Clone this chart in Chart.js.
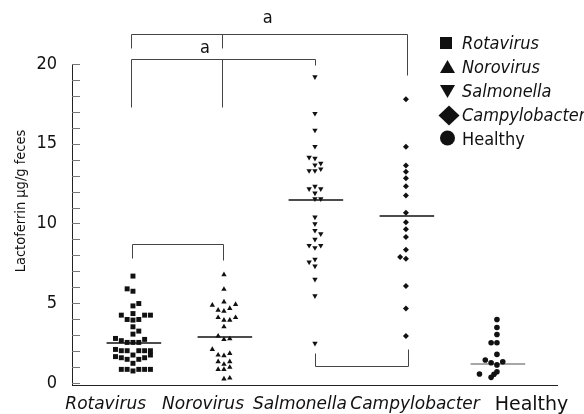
<!DOCTYPE html>
<html>
<head>
<meta charset="utf-8">
<script src="https://cdn.jsdelivr.net/npm/chart.js@4.4.0/dist/chart.umd.min.js"></script>
<style>
  body { margin: 0; background: #fff; }
  #wrap { width: 584px; height: 414px; }
</style>
</head>
<body>
<div id="wrap"><canvas id="chart"></canvas></div>
<script>
var categories = ["Rotavirus", "Norovirus", "Salmonella", "Campylobacter", "Healthy"];
var italicNames = [true, true, true, true, false];
// where the category names sit along the x axis (group units)
var labelPositions = [-0.30, 0.77, 1.835, 3.10, 4.38];
var yTickValues = [0, 1, 2, 3, 4, 5, 6, 7, 8, 9, 10, 11, 12, 13, 14, 15, 16, 17, 18, 19, 20];
var yTitle = "Lactoferrin μg/g feces";

// lactoferrin per patient; slots = sideways spread of the dot plot
var rotavirusValues = [6.7, 5.9, 5.75, 4.83, 4.98, 4.25, 4.35, 4.25, 4.25, 3.98, 3.94, 3.98, 3.52,
  3.06, 3.25, 2.79, 2.65, 2.54, 2.54, 2.54, 2.73, 2.1, 2.02, 2.02, 2.02, 2.02, 2.02, 1.75, 1.75,
  1.65, 1.58, 1.48, 1.48, 1.58, 1.23, 0.85, 0.85, 0.75, 0.85, 0.85, 0.85];
var rotavirusSlots = [0, -1, 0, 0, 1, -2, 0, 2, 3, -1, 0, 1, 0,
  0, 1, -3, -2, -1, 0, 1, 2, -3, -2, -1, 1, 2, 3, 3, 0,
  -3, -2, -1, 1, 2, 0, -2, -1, 0, 1, 2, 3];

var norovirusValues = [6.79, 5.87, 5.08, 4.88, 4.92, 4.56, 4.5, 4.67, 4.1, 3.94, 3.94, 4.1, 3.52,
  2.94, 2.73, 2.77, 2.1, 1.75, 1.71, 1.85, 1.33, 1.17, 1.33, 0.85, 0.85, 0.98, 0.25, 0.31];
var norovirusSlots = [0, 0, 0, -2, 2, -1, 0, 1, -1, 0, 1, 2, 0,
  -1, 0, 1, -2, -1, 0, 1, -1, 0, 1, -1, 0, 1, 0, 1];

var salmonellaValues = [19.19, 16.9, 15.85, 14.83, 14.15, 14.08, 13.67, 13.77, 13.31, 13.31, 13.42,
  12.17, 12.33, 12.17, 11.9, 11.54, 11.54, 10.4, 9.98, 9.56, 9.35, 9.0, 8.62, 8.48, 8.62,
  7.58, 7.75, 7.33, 6.5, 5.46, 2.48];
var salmonellaSlots = [0, 0, 0, 0, -1, 0, 0, 1, -1, 0, 1,
  -1, 0, 1, 0, 0, 1, 0, 0, 0, 1, 0, -1, 0, 1,
  -1, 0, 0, 0, 0, 0];

var campylobacterValues = [17.79, 14.81, 13.63, 13.25, 12.83, 12.33, 11.75, 10.67, 10.08, 9.63,
  9.15, 8.35, 7.9, 7.79, 6.08, 4.67, 2.94];
var campylobacterSlots = [0, 0, 0, 0, 0, 0, 0, 0, 0, 0, 0, 0, -1, 0, 0, 0, 0];

var healthyValues = [3.98, 3.48, 3.04, 2.52, 2.52, 1.79, 1.44, 1.33, 1.27, 1.13, 0.56, 0.35, 0.54, 0.7];
var healthySlots = [0, 0, 0, -1, 0, 0, -2, 1, -1, 0, -3, -1, -0.5, 0];

var groupMeans = [2.51, 2.88, 11.47, 10.47, 1.19];

// significance brackets, [group, value] corners
var bracketLines = [
  [[-0.02, 21.0], [-0.02, 21.88], [3.01, 21.88], [3.01, 19.31]],
  [[0.98, 21.88], [0.98, 21.0]],
  [[-0.02, 17.3], [-0.02, 20.31], [2.0, 20.31], [2.0, 19.94]],
  [[0.98, 20.31], [0.98, 17.3]],
  [[-0.01, 7.84], [-0.01, 8.71], [0.99, 8.71], [0.99, 7.71]],
  [[2.0, 1.9], [2.0, 1.08], [3.02, 1.08], [3.02, 2.13]]
];
var sigLabels = [
  { x: 1.48, y: 22.55, text: "a" },
  { x: 0.79, y: 20.67, text: "a" }
];

var slotWidth = 0.064;
var pointStyles = ["rect", "triangle", "triangle", "rectRot", "circle"];
var pointRotations = [0, 0, 180, 0, 0];
var pointSizes = [3.5, 3.1, 3.1, 3, 2.8];

var allValues = [rotavirusValues, norovirusValues, salmonellaValues, campylobacterValues, healthyValues];
var allSlots = [rotavirusSlots, norovirusSlots, salmonellaSlots, campylobacterSlots, healthySlots];

var datasets = [];
categories.forEach(function (name, g) {
  datasets.push({
    type: "scatter",
    label: name,
    data: allValues[g].map(function (v, i) {
      return { x: g + allSlots[g][i] * slotWidth, y: v };
    }),
    pointStyle: pointStyles[g],
    rotation: pointRotations[g],
    pointRadius: pointSizes[g],
    pointBorderWidth: 0,
    backgroundColor: "#111",
    borderColor: "#111"
  });
  datasets.push({
    type: "line",
    label: name + " mean",
    data: [{ x: g - 0.29, y: groupMeans[g] }, { x: g + 0.31, y: groupMeans[g] }],
    borderColor: g === 4 ? "#8a8a8a" : "#111",
    borderWidth: 1.5,
    pointRadius: 0
  });
});

var extrasPlugin = {
  id: "extras",
  afterDraw: function (chart) {
    var ctx = chart.ctx;
    var xs = chart.scales.x;
    var ys = chart.scales.y;
    var area = chart.chartArea;
    ctx.save();

    // inward tick marks on the y axis
    ctx.strokeStyle = "#777";
    ctx.lineWidth = 1;
    ctx.beginPath();
    ys.ticks.forEach(function (t) {
      var py = Math.round(ys.getPixelForValue(t.value)) + 0.5;
      ctx.moveTo(area.left, py);
      ctx.lineTo(area.left + 8, py);
    });
    ctx.stroke();

    // brackets
    ctx.strokeStyle = "#444";
    bracketLines.forEach(function (line) {
      ctx.beginPath();
      line.forEach(function (p, i) {
        var px = Math.round(xs.getPixelForValue(p[0])) + 0.5;
        var py = Math.round(ys.getPixelForValue(p[1])) + 0.5;
        if (i === 0) ctx.moveTo(px, py); else ctx.lineTo(px, py);
      });
      ctx.stroke();
    });

    ctx.fillStyle = "#111";
    ctx.font = '18px "DejaVu Sans Condensed"';
    ctx.textAlign = "center";
    ctx.textBaseline = "alphabetic";
    sigLabels.forEach(function (s) {
      ctx.fillText(s.text, xs.getPixelForValue(s.x), ys.getPixelForValue(s.y));
    });

    // y axis title
    ctx.save();
    ctx.translate(25, 201);
    ctx.rotate(-Math.PI / 2);
    ctx.font = '14.5px "DejaVu Sans Condensed"';
    ctx.fillText(yTitle, 0, 0);
    ctx.restore();

    // legend
    var mx = [446, 447.5, 447.5, 449, 447.5];
    var my = [43, 67, 91, 115.5, 138];
    ctx.beginPath();
    ctx.rect(mx[0] - 6, my[0] - 6, 12, 12);
    ctx.fill();
    ctx.beginPath();
    ctx.moveTo(mx[1], my[1] - 7);
    ctx.lineTo(mx[1] + 7.5, my[1] + 6);
    ctx.lineTo(mx[1] - 7.5, my[1] + 6);
    ctx.closePath();
    ctx.fill();
    ctx.beginPath();
    ctx.moveTo(mx[2] - 7.5, my[2] - 6);
    ctx.lineTo(mx[2] + 7.5, my[2] - 6);
    ctx.lineTo(mx[2], my[2] + 7);
    ctx.closePath();
    ctx.fill();
    ctx.beginPath();
    ctx.moveTo(mx[3], my[3] - 10);
    ctx.lineTo(mx[3] + 10.5, my[3]);
    ctx.lineTo(mx[3], my[3] + 10);
    ctx.lineTo(mx[3] - 10.5, my[3]);
    ctx.closePath();
    ctx.fill();
    ctx.beginPath();
    ctx.arc(mx[4], my[4], 7.5, 0, Math.PI * 2);
    ctx.fill();

    ctx.textAlign = "left";
    categories.forEach(function (name, i) {
      ctx.font = (italicNames[i] ? "italic " : "") + '18px "DejaVu Sans Condensed"';
      ctx.fillText(name, 462, 49 + 24 * i);
    });
    ctx.restore();
  }
};

new Chart(document.getElementById("chart"), {
  type: "scatter",
  data: { datasets: datasets },
  plugins: [extrasPlugin],
  options: {
    responsive: true,
    maintainAspectRatio: false,
    animation: false,
    devicePixelRatio: 1,
    layout: { padding: { top: 64, right: 27, left: 0, bottom: 0 } },
    plugins: { legend: { display: false }, tooltip: { enabled: false } },
    scales: {
      x: {
        type: "linear",
        min: -0.67,
        max: 4.66,
        afterBuildTicks: function (scale) {
          scale.ticks = labelPositions.map(function (v) { return { value: v }; });
        },
        afterFit: function (scale) { scale.height = 29; },
        grid: { display: false, drawTicks: false },
        border: { display: true, color: "#222", width: 1 },
        ticks: {
          autoSkip: false,
          maxRotation: 0,
          minRotation: 0,
          padding: 9,
          color: "#111",
          font: function (ctx) {
            return italicNames[ctx.index]
              ? { family: "DejaVu Sans", size: 17, style: "italic" }
              : { family: "DejaVu Sans", size: 19, style: "normal" };
          },
          callback: function (v, i) { return categories[i]; }
        }
      },
      y: {
        min: -0.13,
        max: 20,
        afterBuildTicks: function (scale) {
          scale.ticks = yTickValues.map(function (v) { return { value: v }; });
        },
        afterFit: function (scale) { scale.width = 72; },
        grid: { display: false, drawTicks: false },
        border: { display: true, color: "#222", width: 1 },
        ticks: {
          autoSkip: false,
          padding: 15,
          color: "#111",
          font: { family: "DejaVu Sans Condensed", size: 18 },
          callback: function (v) { return v % 5 === 0 ? v : ""; }
        }
      }
    }
  }
});
</script>
</body>
</html>
